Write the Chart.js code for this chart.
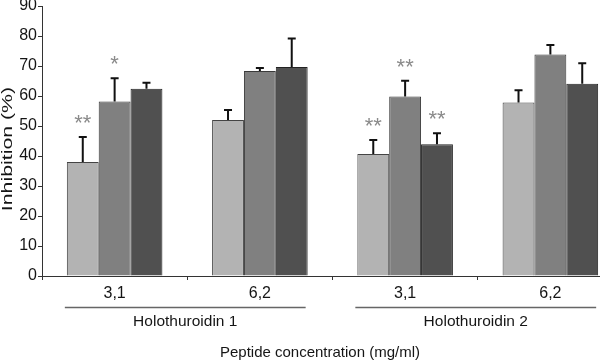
<!DOCTYPE html>
<html>
<head>
<meta charset="utf-8">
<script src="https://cdn.jsdelivr.net/npm/chart.js@4"></script>
<style>
  html, body { margin: 0; padding: 0; background: #fff; overflow: hidden; }
  #wrap { width: 626px; height: 362px; position: relative; }
</style>
</head>
<body>
<div id="wrap"><canvas id="chart"></canvas></div>
<script>
const categories = ["3,1", "6,2", "3,1", "6,2"];
const groups = ["Holothuroidin 1", "Holothuroidin 2"];
const groupOf = [0, 0, 1, 1];

const lightValues = [38.0, 52.0, 40.7, 57.8];
const lightErrors = [8.3, 3.3, 4.6, 4.1];
const midValues = [58.2, 68.3, 59.8, 73.8];
const midErrors = [7.7, 1.0, 5.3, 3.2];
const darkValues = [62.4, 69.7, 43.9, 64.1];
const darkErrors = [2.0, 9.5, 3.7, 6.8];

const lightMarks = ["**", "", "**", ""];
const midMarks = ["*", "", "**", ""];
const darkMarks = ["", "", "**", ""];

const yMin = 0;
const yMax = 90;
const yStep = 10;

const textColor = "#151515";
const fontFamily = "'Liberation Sans', Arial, sans-serif";

const errorBars = {
    id: "errorBars",
    afterDatasetsDraw(chart) {
        const ctx = chart.ctx;
        const y = chart.scales.y;
        ctx.save();
        chart.data.datasets.forEach((ds, i) => {
            const meta = chart.getDatasetMeta(i);
            meta.data.forEach((bar, j) => {
                const top = y.getPixelForValue(ds.data[j] + ds.errors[j]);
                ctx.strokeStyle = "#111";
                ctx.lineWidth = 2;
                ctx.beginPath();
                ctx.moveTo(bar.x, bar.y);
                ctx.lineTo(bar.x, top);
                ctx.moveTo(bar.x - 4, top);
                ctx.lineTo(bar.x + 4, top);
                ctx.stroke();

                const mark = ds.marks[j];
                if (mark) {
                    ctx.fillStyle = "#8a8a8a";
                    ctx.font = "22px " + fontFamily;
                    ctx.textAlign = "center";
                    ctx.textBaseline = "alphabetic";
                    ctx.fillText(mark, bar.x, top - 19 + 12);
                }
            });
        });
        ctx.restore();
    }
};

const extraText = {
    id: "extraText",
    afterDraw(chart) {
        const ctx = chart.ctx;
        ctx.save();
        ctx.fillStyle = textColor;
        ctx.font = "15.5px " + fontFamily;
        ctx.textAlign = "center";

        // group lines and labels
        groups.forEach((name, g) => {
            let left = Infinity, right = -Infinity;
            chart.data.datasets.forEach((ds, i) => {
                chart.getDatasetMeta(i).data.forEach((bar, j) => {
                    if (groupOf[j] !== g) return;
                    left = Math.min(left, bar.x - bar.width / 2);
                    right = Math.max(right, bar.x + bar.width / 2);
                });
            });
            ctx.strokeStyle = "#666";
            ctx.lineWidth = 1.5;
            ctx.beginPath();
            ctx.moveTo(left - 2, 307.5);
            ctx.lineTo(right - 2, 307.5);
            ctx.stroke();
            ctx.textBaseline = "alphabetic";
            ctx.fillText(name, (left + right) / 2 - 2, 326);
        });

        // x title
        ctx.font = "15px " + fontFamily;
        ctx.fillText("Peptide concentration (mg/ml)", 320, 357);

        // y title
        ctx.translate(7.5, 149);
        ctx.rotate(-Math.PI / 2);
        ctx.scale(1.42, 1);
        ctx.textBaseline = "middle";
        ctx.fillText("Inhibition (%)", 0, 0);
        ctx.restore();
    }
};

new Chart(document.getElementById("chart"), {
    type: "bar",
    data: {
        labels: categories,
        datasets: [
            {
                data: lightValues,
                errors: lightErrors,
                marks: lightMarks,
                backgroundColor: "#b3b3b3",
                borderColor: "#444",
                borderWidth: 1
            },
            {
                data: midValues,
                errors: midErrors,
                marks: midMarks,
                backgroundColor: "#808080",
                borderColor: "#3a3a3a",
                borderWidth: 1
            },
            {
                data: darkValues,
                errors: darkErrors,
                marks: darkMarks,
                backgroundColor: "#505050",
                borderColor: "#222",
                borderWidth: 1
            }
        ]
    },
    options: {
        responsive: true,
        maintainAspectRatio: false,
        animation: false,
        categoryPercentage: 0.658,
        barPercentage: 1.0,
        layout: {
            padding: { top: 6, right: 3, left: 0, bottom: 0 }
        },
        plugins: {
            legend: { display: false },
            tooltip: { enabled: false }
        },
        scales: {
            x: {
                offset: true,
                grid: {
                    offset: true,
                    drawOnChartArea: false,
                    drawTicks: true,
                    tickLength: 4,
                    color: "#333"
                },
                border: { display: true, color: "#333", width: 1 },
                ticks: {
                    color: textColor,
                    padding: 4,
                    font: { family: fontFamily, size: 16 }
                },
                afterFit(scale) {
                    scale.height = 86;
                    scale.paddingLeft = 0;
                    scale.paddingRight = 0;
                }
            },
            y: {
                min: yMin,
                max: yMax,
                grid: {
                    drawOnChartArea: false,
                    drawTicks: true,
                    tickLength: 4,
                    color: "#333"
                },
                border: { display: true, color: "#333", width: 1 },
                ticks: {
                    stepSize: yStep,
                    color: textColor,
                    padding: 1,
                    font: { family: fontFamily, size: 16 }
                },
                afterFit(scale) {
                    scale.width = 42;
                    scale.paddingTop = 0;
                    scale.paddingBottom = 0;
                }
            }
        }
    },
    plugins: [errorBars, extraText]
});
</script>
</body>
</html>
